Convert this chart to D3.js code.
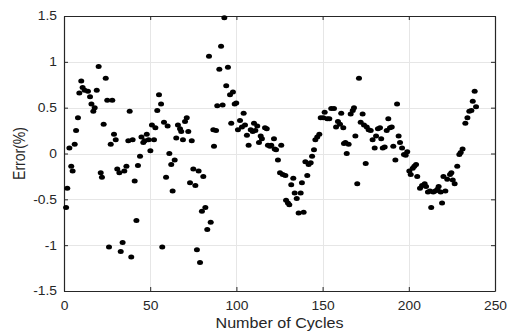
<!DOCTYPE html>
<html>
<head>
<meta charset="utf-8">
<script src="https://cdn.jsdelivr.net/npm/d3@7"></script>
<style>
  html, body { margin: 0; padding: 0; background: #fff; }
  svg { display: block; }
  text { font-family: "Liberation Sans", Arial, sans-serif; fill: #262626; }
</style>
</head>
<body>
<svg id="chart" width="509" height="331"></svg>
<script>
// ---- data ----
const cycles = [
  1.2, 1.9, 3.1, 4.2, 5.0, 6.2, 7.0, 8.1, 8.9, 10.0, 10.8, 12.0, 13.9, 15.1, 15.9, 17.0, 17.8, 19.0, 20.1,
  21.3, 22.0, 23.0, 24.2, 25.1, 26.1, 27.1, 28.0, 29.0, 30.0, 30.9, 32.1, 32.9, 34.0, 35.0, 36.2, 37.3, 38.1,
  39.0, 39.8, 41.0, 42.0, 42.9, 44.1, 44.9, 46.0, 46.8, 48.0, 49.1, 50.1, 51.0, 52.2, 53.0, 54.1, 55.1, 56.3,
  57.0, 58.0, 59.2, 60.1, 61.1, 62.2, 63.0, 64.2, 65.1, 66.1, 67.3, 68.0, 69.0, 70.2, 71.2, 72.1, 73.1, 74.1,
  75.0, 76.2, 77.1, 78.1, 78.9, 80.0, 80.8, 82.0, 83.1, 84.1, 85.1, 86.6, 87.0, 88.2, 88.9, 90.1, 91.1, 92.0,
  93.0, 94.1, 95.1, 96.3, 97.0, 98.0, 99.0, 99.9, 100.9, 102.1, 103.2, 104.2, 105.0, 106.1, 107.1, 108.3,
  109.5, 110.2, 111.0, 112.1, 113.1, 114.1, 114.8, 116.6, 117.6, 118.3, 119.5, 120.2, 121.8, 122.2, 123.0,
  124.1, 125.3, 126.0, 126.9, 128.4, 128.8, 129.9, 130.7, 131.8, 133.0, 133.8, 135.0, 136.1, 137.3, 138.0,
  139.0, 140.0, 141.1, 141.9, 143.1, 143.9, 145.0, 145.8, 146.9, 148.1, 148.9, 150.4, 151.2, 152.7, 153.9,
  155.0, 156.6, 157.8, 158.9, 160.1, 160.8, 162.0, 162.4, 163.2, 164.0, 165.1, 166.3, 167.5, 168.2, 169.0,
  170.1, 171.1, 172.1, 173.2, 174.0, 175.0, 175.6, 176.7, 177.9, 179.0, 180.2, 181.0, 182.1, 183.3, 184.0,
  184.9, 186.0, 187.2, 188.1, 189.1, 190.1, 191.0, 192.2, 193.2, 194.1, 194.9, 196.1, 197.2, 198.2, 199.1,
  200.3, 201.1, 202.3, 203.2, 204.2, 204.9, 206.5, 207.7, 209.2, 210.0, 211.1, 212.3, 213.0, 214.2, 215.4,
  216.6, 217.3, 218.5, 219.3, 220.1, 221.2, 222.3, 223.9, 224.7, 225.5, 226.6, 228.1, 229.3, 230.1, 231.2,
  232.8, 234.0, 235.1, 236.3, 237.1, 238.2, 239.0
];
const errors = [
  -0.59, -0.38, 0.06, -0.14, -0.19, 0.10, 0.25, 0.39, 0.66, 0.79, 0.72, 0.69, 0.68, 0.62, 0.54, 0.46, 0.50, 0.69, 0.95,
  -0.21, -0.26, 0.32, 0.82, 0.58, -1.02, 0.10, 0.58, 0.21, 0.15, -0.17, -0.21, -1.07, -0.97, -0.19, -0.14, 0.14, 0.46,
  -1.13, 0.15, -0.30, -0.73, -0.13, -0.03, 0.18, 0.12, 0.14, 0.21, 0.15, 0.03, 0.31, 0.15, 0.28, 0.47, 0.64, 0.54,
  -1.02, 0.34, -0.26, 0.30, 0.00, -0.12, -0.41, -0.07, 0.17, 0.31, 0.27, 0.24, 0.15, 0.35, 0.39, 0.24, -0.32, 0.14,
  -0.17, -0.35, -1.05, -0.19, -1.19, -0.63, -0.25, -0.59, -0.83, 1.06, -0.75, 0.26, 0.08, 0.25, 0.52, 0.92, 1.17, 0.53,
  1.48, 0.74, 0.94, 0.64, 0.33, 0.67, 0.54, 0.55, 0.26, 0.36, 0.29, 0.44, 0.31, 0.20, 0.09, 0.26,
  0.24, 0.33, 0.25, 0.30, 0.12, 0.19, 0.16, 0.28, 0.27, 0.09, 0.08, 0.09, 0.16, 0.05, 0.04,
  -0.07, -0.21, 0.09, -0.23, -0.24, -0.51, -0.54, -0.56, -0.34, -0.27, -0.43, -0.49, -0.65, -0.43, -0.32,
  -0.64, -0.09, -0.24, -0.12, -0.10, -0.03, 0.04, 0.15, 0.18, 0.21, 0.39, 0.39, 0.45, 0.38, 0.38,
  0.49, 0.49, 0.29, 0.35, 0.32, 0.44, 0.28, 0.11, 0.12, 0.00, 0.10, 0.43, 0.47, 0.50, 0.19,
  -0.33, 0.82, 0.34, 0.43, 0.31, -0.11, 0.29, 0.26, 0.25, 0.15, 0.06, 0.19, 0.27, 0.28, 0.16,
  0.06, 0.07, 0.25, 0.38, 0.28, 0.29, 0.08, -0.07, 0.54, 0.19, 0.12, 0.06, -0.01, -0.02, 0.02,
  -0.19, -0.23, -0.16, -0.14, -0.12, -0.25, -0.38, -0.35, -0.33, -0.36, -0.42, -0.41, -0.59, -0.42, -0.41,
  -0.39, -0.36, -0.42, -0.54, -0.25, -0.41, -0.28, -0.23, -0.21, -0.29, -0.33, -0.14, -0.01, 0.01, 0.05,
  0.33, 0.39, 0.46, 0.47, 0.57, 0.68, 0.51
];
const xTicks = [0, 50, 100, 150, 200, 250];
const xTickLabels = ["0", "50", "100", "150", "200", "250"];
const yTicks = [-1.5, -1, -0.5, 0, 0.5, 1, 1.5];
const yTickLabels = ["-1.5", "-1", "-0.5", "0", "0.5", "1", "1.5"];
const xTitle = "Number of Cycles";
const yTitle = "Error(%)";

// ---- layout ----
const L = 64, T = 16, R = 495, B = 291;
const STRETCH = 1.15;
const svg = d3.select("#chart");
const x = d3.scaleLinear().domain([0, 250]).range([L, R]);
const y = d3.scaleLinear().domain([-1.5, 1.5]).range([B, T]);

// grid
const grid = svg.append("g").attr("stroke", "#e6e6e6").attr("stroke-width", 1);
grid.selectAll("line.vx").data(xTicks.slice(1, -1)).join("line")
  .attr("x1", d => Math.round(x(d)) + 0.5).attr("x2", d => Math.round(x(d)) + 0.5)
  .attr("y1", T).attr("y2", B);
grid.selectAll("line.hy").data(yTicks.slice(1, -1)).join("line")
  .attr("y1", d => Math.round(y(d)) + 0.5).attr("y2", d => Math.round(y(d)) + 0.5)
  .attr("x1", L).attr("x2", R);

function styleAxis(g) {
  g.selectAll("path.domain").attr("stroke", "#262626").attr("stroke-width", 1.2);
  g.selectAll(".tick line").attr("stroke", "#262626");
  g.selectAll("text").attr("fill", "#262626").style("font-size", "12px")
    .attr("font-family", '"Liberation Sans", Arial, sans-serif');
}

const xFmt = d => xTickLabels[xTicks.indexOf(d)];
const yFmt = d => yTickLabels[yTicks.indexOf(d)];

svg.append("g").attr("transform", `translate(0,${B})`)
  .call(d3.axisBottom(x).tickValues(xTicks).tickFormat(xFmt).tickSizeInner(-4).tickSizeOuter(0).tickPadding(10))
  .call(styleAxis);
svg.append("g").attr("transform", `translate(0,${T})`)
  .call(d3.axisTop(x).tickValues(xTicks).tickFormat("").tickSizeInner(-4).tickSizeOuter(0))
  .call(styleAxis);
svg.append("g").attr("transform", `translate(${L},0)`)
  .call(d3.axisLeft(y).tickValues(yTicks).tickFormat(yFmt).tickSizeInner(-4).tickSizeOuter(0).tickPadding(7))
  .call(styleAxis);
svg.append("g").attr("transform", `translate(${R},0)`)
  .call(d3.axisRight(y).tickValues(yTicks).tickFormat("").tickSizeInner(-4).tickSizeOuter(0))
  .call(styleAxis);

// axis titles
svg.append("text").attr("class", "stretch")
  .attr("x", (L + R) / 2).attr("y", 328)
  .attr("text-anchor", "middle").style("font-size", "14px")
  .text(xTitle);
svg.append("text")
  .attr("transform", `translate(25,${(T + B) / 2}) scale(${STRETCH},1) rotate(-90)`)
  .attr("text-anchor", "middle").style("font-size", "14px")
  .text(yTitle);

// horizontal stretch of tick labels and x title
svg.selectAll(".tick text, text.stretch").each(function () {
  const len = this.getComputedTextLength();
  if (len > 0) {
    d3.select(this).attr("textLength", len * STRETCH).attr("lengthAdjust", "spacingAndGlyphs");
  }
});

// points
const pts = d3.zip(cycles, errors);
svg.append("g").selectAll("ellipse").data(pts).join("ellipse")
  .attr("cx", d => x(d[0])).attr("cy", d => y(d[1]))
  .attr("rx", 3.0).attr("ry", 2.5)
  .attr("fill", "#000");
</script>
</body>
</html>
